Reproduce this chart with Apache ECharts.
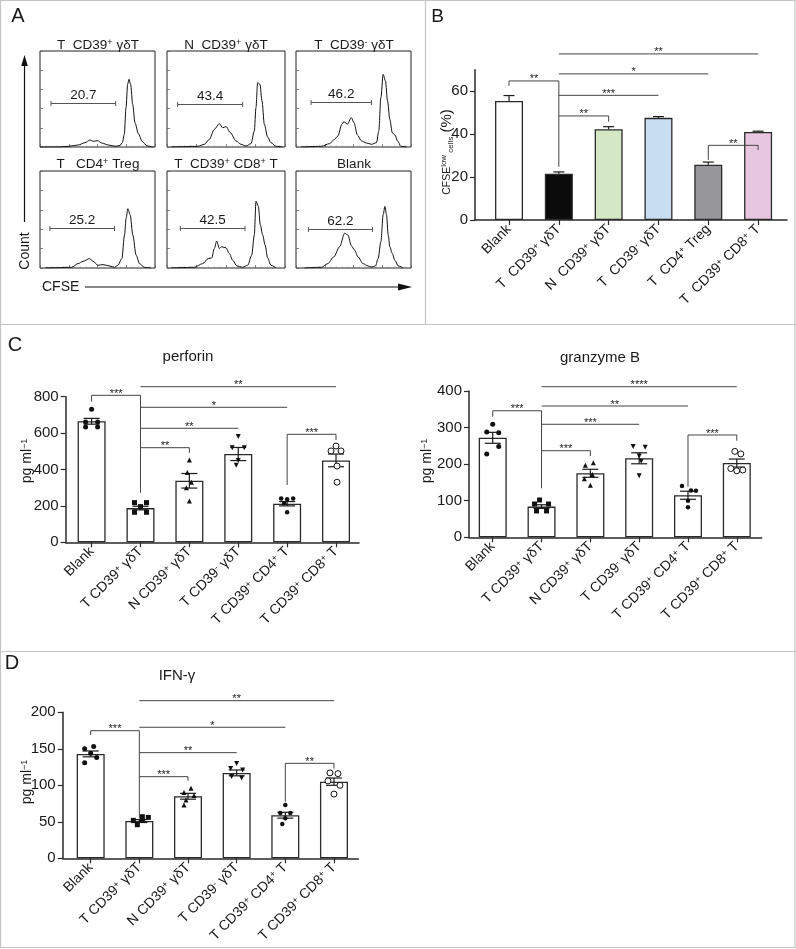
<!DOCTYPE html>
<html>
<head>
<meta charset="utf-8">
<script src="https://cdn.jsdelivr.net/npm/echarts@6.0.0/dist/echarts.min.js"></script>
<style>
html,body{margin:0;padding:0;background:#fff;}
#chart{width:796px;height:949px;}
</style>
</head>
<body>
<div id="chart"></div>
<script>
// ================= DATA =================
// ---- Panel A: CFSE histograms (x: CFSE position 0-100, y: relative count 0-100)
const histTitles = ['T  CD39⁺ γδT', 'N  CD39⁺ γδT', 'T  CD39⁻ γδT', 'T   CD4⁺ Treg', 'T  CD39⁺ CD8⁺ T', 'Blank'];
const histGateLabels = ['20.7', '43.4', '46.2', '25.2', '42.5', '62.2'];
const histGates = [[9.6, 65.8, 46.2], [9.0, 64.1, 44.4], [13.1, 65.6, 47.2], [8.6, 64.8, 41.0], [11.3, 66.1, 41.0], [10.8, 66.5, 40.3]];
const histTumorCD39pos = [[0,0],[16,0],[24.6,0.7],[33.3,2.1],[39.1,4.5],[43.5,7.3],[46.4,5.9],[50.1,6.6],[53.6,4.2],[59.4,2.1],[65.8,0.7],[69.6,1.7],[71.6,4.5],[73.3,13.2],[74.8,41],[76.2,65.3],[77.4,70.5],[78.8,65.3],[80.6,44.4],[82.6,25.3],[85.5,13.9],[89,5.6],[92.8,1.4],[97.1,0],[99,0]];
const histNormalCD39pos = [[3.4,0],[26,0.7],[31.6,2.8],[35.9,8],[40.1,18.4],[44.4,24.3],[47.2,20.1],[50,21.2],[53.7,14.9],[58.5,6.3],[62.7,2.8],[66.9,1],[71.2,3.5],[74,16.7],[75.4,41],[76.8,67],[78.8,65.3],[80.5,47.9],[82.5,23.6],[85.3,10.4],[88.1,4.5],[92.4,0.7],[98,0]];
const histTumorCD39neg = [[4.4,0],[21.9,0.7],[29.2,3.5],[33.5,8],[36.4,11.5],[39.9,23.6],[41.7,26.4],[44.6,23.6],[48.1,30.6],[50.4,25.3],[53.4,12.5],[56.9,6.3],[61.2,4.2],[65.6,2.8],[70,4.5],[72,16.7],[73.8,51.4],[75.8,75.7],[77.8,68.8],[79.6,47.9],[81.6,28.8],[83.7,14.9],[86,12.5],[88.3,6.3],[91.3,0.7],[96.2,0]];
const histTreg = [[4.3,0],[27.4,0.7],[33.1,4.5],[37.5,6.9],[43.2,9.7],[46.1,6.9],[50.4,2.8],[54.8,3.5],[60.5,2.1],[64.8,0.7],[67.7,2.8],[71.2,9.7],[73.5,34],[74.9,51.4],[76.4,61.1],[78.4,54.9],[80.7,34],[83.6,13.2],[86.5,4.5],[90.8,0.7],[96.5,0]];
const histCD8 = [[3.4,0],[23.2,0.7],[30.2,4.5],[35,9.7],[37.9,10.4],[40.1,20.1],[42.1,27.8],[44.4,20.1],[46.3,21.9],[50,20.8],[52.8,14.9],[55.6,8],[59.3,2.1],[64.1,0.7],[68.4,2.8],[71.8,13.2],[74,34],[75.4,68.8],[77.4,63.5],[79.1,44.4],[81.1,34],[83.1,23.6],[85.3,10.4],[88.1,2.8],[92.4,0]];
const histBlank = [[7.3,0],[21.9,0.7],[27.7,4.5],[32.9,11.5],[37.9,21.9],[42.3,35.8],[45.2,34],[48.1,22.9],[51,18.4],[53.9,11.5],[58.3,4.5],[62.7,2.1],[65.6,1],[69.1,2.1],[71.4,9.7],[73.8,27.1],[75.8,54.9],[77.3,63.5],[78.7,54.9],[80.2,34],[81.6,21.9],[83.7,14.9],[86,8],[88.9,2.1],[93.3,0]];
const histData = [histTumorCD39pos, histNormalCD39pos, histTumorCD39neg, histTreg, histCD8, histBlank];

// ---- Panel B: CFSE-low cells (%)
const bCategories = ['Blank', 'T  CD39⁺ γδT', 'N  CD39⁺ γδT', 'T  CD39⁻ γδT', 'T  CD4⁺ Treg', 'T  CD39⁺ CD8⁺ T'];
const bMeans = [55.5, 21.6, 42.3, 47.6, 25.8, 41.0];
const bSems = [2.5, 0.8, 1.2, 0.6, 1.2, 0.4];
const bTicks = [0, 20, 40, 60];
// [fromIndex, toIndex, lineValue, leftDropValue, rightDropValue]
const bBrackets = [[0,1,64.8,62.5,24.8],[1,5,77.4,null,null],[1,4,68.1,null,null],[1,3,58.1,null,null],[1,2,48.5,null,45.8],[4,5,34.8,28,32.6]];
const bStars = ['**','**','*','***','**','**'];

// ---- Panels C / D: cytokines
const cytoCategories = ['Blank', 'T CD39⁺ γδT', 'N CD39⁺ γδT', 'T CD39⁻ γδT', 'T CD39⁺ CD4⁺ T', 'T CD39⁺ CD8⁺ T'];

const perfMeans = [665, 188, 338, 485, 212, 450];
const perfSems = [16, 10, 40, 36, 12, 35];
const perfPoints = [[731,661,661,634,634],[218,218,196,165,165],[452,383,330,300,227],[581,520,520,449,423],[240,236,240,215,165],[529,502,502,419,330]];
const perfTicks = [0, 200, 400, 600, 800];
const perfBrackets = [[0,1,807.7,772.5,272.5],[1,5,855,null,null],[1,4,741.8,null,null],[1,3,626.4,null,null],[1,2,519.8,null,492.3],[4,5,593.4,314.8,562]];
const perfStars = ['***','**','*','**','**','***'];

const granMeans = [272, 84, 175, 216, 115, 203];
const granSems = [15, 5, 11, 15, 11, 11];
const granPoints = [[309,288,286,248,228],[102,91,91,72,72],[204,197,172,160,142],[248,246,222,208,168],[140,128,127,100,82],[235,228,188,182,184]];
const granTicks = [0, 100, 200, 300, 400];
const granBrackets = [[0,1,346,329.7,134],[1,5,411.7,null,null],[1,4,359,null,null],[1,3,309,null,null],[1,2,236.7,null,222.3],[4,5,279.7,138.3,264]];
const granStars = ['***','****','**','***','***','***'];

const ifnMeans = [143, 51, 85, 117, 59, 105];
const ifnSems = [4, 2, 4, 4, 4, 5];
const ifnPoints = [[153,150,144,138,131],[57,56,52,52,46],[96,90,86,80,73],[130,123,121,112,110],[73,62,62,55,47],[117,116,106,100,88]];
const ifnTicks = [0, 50, 100, 150, 200];
const ifnBrackets = [[0,1,174.8,168.9,54.8],[1,5,215.9,null,null],[1,4,179.5,null,null],[1,3,144.7,null,null],[1,2,111.8,null,106.3],[4,5,130.1,77.5,122.7]];
const ifnStars = ['***','**','*','**','***','**'];

// ================= STYLE / LAYOUT =================
const FF = '"Liberation Sans", Arial, Helvetica, sans-serif';
const TXT = '#1a1a1a';
const AX = '#2a2a2a';
const supRich = { sup: { fontSize: 9, fontFamily: FF, color: TXT, verticalAlign: 'top', padding: [0, 0, 3, 0] } };
function supFmt(s) { return s.replace(/⁺/g, '{sup|+}').replace(/⁻/g, '{sup|-}'); }

const histLayout = [[40,51,115,96],[167,51,118,96],[296,51,115,96],[40,171,115,97],[167,171,118,97],[296,171,115,97]];
const bBarColors = ['#ffffff', '#0b0b0b', '#d4e8c6', '#c8dcf2', '#97979b', '#e7c7df'];
const jitterPerf = [[0,-6,6,-6,6],[-6,6,0,-6,6],[0,-2,2,-3,0],[0,-6,6,0,-2],[-6,0,6,-3,0],[0,-5,5,1,1]];
const jitterGran = [[0,-6,6,6,-6],[-2,-7,7,-5,5],[3,-5,2,-6,0],[-6,6,0,2,0],[-6,3,8,0,0],[-2,4,-6,0,6]];
const jitterIfn = [[3,-6,0,6,-6],[3,9,-6,3,-2],[3,-4,6,-2,-4],[0,-6,6,-5,5],[0,-5,5,0,-3],[-4,4,-6,6,0]];
const groupSymbols = [
  { symbol: 'circle', size: 5, rotate: 0, fill: '#111' },
  { symbol: 'rect', size: 5, rotate: 0, fill: '#111' },
  { symbol: 'triangle', size: 5, rotate: 0, fill: '#111' },
  { symbol: 'triangle', size: 5, rotate: 180, fill: '#111' },
  { symbol: 'circle', size: 4.5, rotate: 0, fill: '#111' },
  { symbol: 'circle', size: 6, rotate: 0, fill: '#fff' }
];

const grids = [], xAxes = [], yAxes = [], series = [];

// ---------- Panel A ----------
histData.forEach((pts, k) => {
  const L = histLayout[k];
  grids.push({ left: L[0], top: L[1], width: L[2], height: L[3], show: true, borderColor: '#222', borderWidth: 1,
    backgroundColor: 'transparent', containLabel: false, outerBoundsMode: 'none' });
  const gi = grids.length - 1;
  const tickCommon = { axisLine: { show: false, onZero: false }, axisLabel: { show: false }, splitLine: { show: false },
    axisTick: { show: true, inside: true, length: 3, lineStyle: { color: '#666', width: 0.8 } },
    minorTick: { show: true, splitNumber: 5, length: 1.5, lineStyle: { color: '#888', width: 0.6 } } };
  xAxes.push(Object.assign({ gridIndex: gi, type: 'value', min: 0, max: 100, interval: 25 }, tickCommon));
  yAxes.push(Object.assign({ gridIndex: gi, type: 'value', min: 0, max: 100, interval: 20 }, tickCommon,
    { minorTick: { show: false } }));
  const xi = xAxes.length - 1, yi = yAxes.length - 1;
  series.push({ type: 'line', xAxisIndex: xi, yAxisIndex: yi, data: pts, showSymbol: false, smooth: 0.3,
    smoothMonotone: 'x', lineStyle: { color: '#111', width: 1 }, silent: true, z: 3 });
  series.push({ type: 'custom', xAxisIndex: xi, yAxisIndex: yi, silent: true, z: 4, clip: false,
    data: [histGates[k]], encode: { x: [0, 1], y: 2 },
    renderItem(params, api) {
      const p1 = api.coord([api.value(0), api.value(2)]), p2 = api.coord([api.value(1), api.value(2)]);
      const st = { stroke: '#555', lineWidth: 1 };
      const y = Math.round(p1[1]) + 0.5;
      return { type: 'group', children: [
        { type: 'line', shape: { x1: p1[0], y1: y, x2: p2[0], y2: y }, style: st },
        { type: 'line', shape: { x1: p1[0], y1: y - 2.5, x2: p1[0], y2: y + 2.5 }, style: st },
        { type: 'line', shape: { x1: p2[0], y1: y - 2.5, x2: p2[0], y2: y + 2.5 }, style: st },
        { type: 'text', x: (p1[0] + p2[0]) / 2, y: y - 8.5, style: { text: histGateLabels[k], fill: TXT,
          font: '13.5px ' + FF, textAlign: 'center', textVerticalAlign: 'middle', align: 'center', verticalAlign: 'middle' } }
      ] };
    } });
});

// ---------- bar panels ----------
function barPanel(cfg) {
  grids.push({ left: cfg.box[0], top: cfg.box[1], width: cfg.box[2], height: cfg.box[3], containLabel: false, outerBoundsMode: 'none' });
  const gi = grids.length - 1;
  xAxes.push({ gridIndex: gi, type: 'value', min: cfg.xRange[0], max: cfg.xRange[1],
    axisLine: { show: true, onZero: false, lineStyle: { color: AX, width: 1.5 } },
    axisTick: { show: true, length: 5, customValues: [0,1,2,3,4,5], lineStyle: { color: AX, width: 1.2 } },
    axisLabel: { show: true, customValues: [0,1,2,3,4,5], rotate: 45, margin: 7, hideOverlap: false,
      fontSize: 14, fontFamily: FF, color: TXT, rich: supRich,
      formatter: v => supFmt(cfg.cats[Math.round(v)]) },
    splitLine: { show: false } });
  yAxes.push({ gridIndex: gi, type: 'value', min: 0, max: cfg.yMax, interval: cfg.yTicks[1] - cfg.yTicks[0],
    axisLine: { show: true, onZero: false, lineStyle: { color: AX, width: 1.5 } },
    axisTick: { show: true, length: 5, customValues: cfg.yTicks, lineStyle: { color: AX, width: 1.2 } },
    axisLabel: { show: true, customValues: cfg.yTicks, margin: 7, fontSize: 15, fontFamily: FF, color: TXT, hideOverlap: false },
    splitLine: { show: false } });
  const xi = xAxes.length - 1, yi = yAxes.length - 1;
  series.push({ type: 'bar', xAxisIndex: xi, yAxisIndex: yi, barWidth: 28, silent: true, z: 2,
    data: cfg.means.map((m, i) => ({ value: [i, m], itemStyle: { color: cfg.colors ? cfg.colors[i] : '#fff' } })),
    itemStyle: { borderColor: '#2a2a2a', borderWidth: 1.3 } });
  series.push({ type: 'custom', xAxisIndex: xi, yAxisIndex: yi, silent: true, z: 3, clip: false,
    data: cfg.means.map((m, i) => [i, m, cfg.sems[i]]), encode: { x: 0, y: 1 },
    renderItem(params, api) {
      const i = api.value(0), m = api.value(1), s = api.value(2);
      const t = api.coord([i, m + s]), b = api.coord([i, cfg.both ? m - s : m]);
      const x = t[0], w = cfg.capW / 2;
      const st = { stroke: '#1a1a1a', lineWidth: 1.2 };
      const ch = [
        { type: 'line', shape: { x1: x, y1: t[1], x2: x, y2: b[1] }, style: st },
        { type: 'line', shape: { x1: x - w, y1: t[1], x2: x + w, y2: t[1] }, style: st }
      ];
      if (cfg.both) ch.push({ type: 'line', shape: { x1: x - w, y1: b[1], x2: x + w, y2: b[1] }, style: st });
      return { type: 'group', children: ch };
    } });
  if (cfg.points) {
    cfg.points.forEach((grp, i) => {
      const g = groupSymbols[i];
      series.push({ type: 'scatter', xAxisIndex: xi, yAxisIndex: yi, silent: true, z: 5,
        symbol: g.symbol, symbolSize: g.size, symbolRotate: g.rotate,
        itemStyle: { color: g.fill, borderColor: '#111', borderWidth: g.fill === '#fff' ? 1 : 0, opacity: 1 },
        data: grp.map((v, j) => ({ value: [i, v], symbolOffset: [cfg.jitter[i][j], 0] })) });
    });
  }
  series.push({ type: 'custom', xAxisIndex: xi, yAxisIndex: yi, silent: true, z: 6, clip: false,
    data: cfg.brackets, encode: { x: [0, 1], y: 2 },
    renderItem(params, api) {
      const a = api.value(0), b = api.value(1), yv = api.value(2), ld = api.value(3), rd = api.value(4);
      const p1 = api.coord([a, yv]), p2 = api.coord([b, yv]);
      const st = { stroke: '#444', lineWidth: 1 };
      const ch = [{ type: 'line', shape: { x1: p1[0], y1: p1[1], x2: p2[0], y2: p2[1] }, style: st }];
      if (isFinite(ld)) { const q = api.coord([a, ld]); ch.push({ type: 'line', shape: { x1: p1[0], y1: p1[1], x2: p1[0], y2: q[1] }, style: st }); }
      if (isFinite(rd)) { const q = api.coord([b, rd]); ch.push({ type: 'line', shape: { x1: p2[0], y1: p2[1], x2: p2[0], y2: q[1] }, style: st }); }
      ch.push({ type: 'text', x: (p1[0] + p2[0]) / 2, y: p1[1] - 1.5, style: { text: cfg.stars[params.dataIndex], fill: '#222',
        font: '11px ' + FF, textAlign: 'center', textVerticalAlign: 'middle', align: 'center', verticalAlign: 'middle' } });
      return { type: 'group', children: ch };
    } });
}

barPanel({ box: [475, 69.8, 312, 150.2], xRange: [-0.683, 5.58], yMax: 70, yTicks: bTicks, cats: bCategories,
  means: bMeans, sems: bSems, colors: bBarColors, both: false, capW: 11, brackets: bBrackets, stars: bStars });
barPanel({ box: [65.7, 396.7, 293.3, 145.6], xRange: [-0.53, 5.47], yMax: 800, yTicks: perfTicks, cats: cytoCategories,
  means: perfMeans, sems: perfSems, both: true, capW: 16, points: perfPoints, jitter: jitterPerf, brackets: perfBrackets, stars: perfStars });
barPanel({ box: [469, 391, 292.7, 146.3], xRange: [-0.486, 5.51], yMax: 400, yTicks: granTicks, cats: cytoCategories,
  means: granMeans, sems: granSems, both: true, capW: 16, points: granPoints, jitter: jitterGran, brackets: granBrackets, stars: granStars });
barPanel({ box: [62.7, 712.3, 295.6, 146], xRange: [-0.575, 5.5], yMax: 200, yTicks: ifnTicks, cats: cytoCategories,
  means: ifnMeans, sems: ifnSems, both: true, capW: 16, points: ifnPoints, jitter: jitterIfn, brackets: ifnBrackets, stars: ifnStars });

// ---------- free text & frame ----------
function txt(x, y, text, size, extra) {
  return Object.assign({ type: 'text', x: x, y: y, silent: true, z: 10,
    style: { text: text, fontSize: size, fontFamily: FF, fill: TXT, textAlign: 'center', textVerticalAlign: 'middle',
      align: 'center', verticalAlign: 'middle', rich: supRich } }, extra || {});
}
const BORDER = '#c4c4c4';
const graphics = [
  { type: 'rect', shape: { x: 0.5, y: 0.5, width: 794.5, height: 947 }, style: { fill: null, stroke: BORDER, lineWidth: 1.2 }, silent: true },
  { type: 'line', shape: { x1: 425.5, y1: 0, x2: 425.5, y2: 324 }, style: { stroke: BORDER, lineWidth: 1.2 }, silent: true },
  { type: 'line', shape: { x1: 0, y1: 324.5, x2: 796, y2: 324.5 }, style: { stroke: BORDER, lineWidth: 1.2 }, silent: true },
  { type: 'line', shape: { x1: 0, y1: 651.5, x2: 796, y2: 651.5 }, style: { stroke: BORDER, lineWidth: 1.2 }, silent: true },
  txt(18, 16, 'A', 20), txt(437.5, 17, 'B', 19), txt(15, 345, 'C', 20), txt(12, 663.5, 'D', 20),
  txt(188, 357, 'perforin', 15), txt(600, 358, 'granzyme B', 15), txt(177, 676, 'IFN-γ', 15),
  // Count / CFSE axes of panel A
  txt(25, 251, 'Count', 14, { rotation: Math.PI / 2 }),
  { type: 'text', x: 42, y: 287.5, silent: true, style: { text: 'CFSE', fontSize: 14, fontFamily: FF, fill: TXT,
    textAlign: 'left', textVerticalAlign: 'middle', align: 'left', verticalAlign: 'middle' } },
  { type: 'line', shape: { x1: 24.5, y1: 222, x2: 24.5, y2: 62 }, style: { stroke: '#111', lineWidth: 1.2 }, silent: true },
  { type: 'polygon', shape: { points: [[24.5, 55], [21.2, 66], [27.8, 66]] }, style: { fill: '#111' }, silent: true },
  { type: 'line', shape: { x1: 85, y1: 287, x2: 402, y2: 287 }, style: { stroke: '#111', lineWidth: 1.2 }, silent: true },
  { type: 'polygon', shape: { points: [[412, 287], [398, 283.5], [398, 290.5]] }, style: { fill: '#111' }, silent: true },
  // y-axis names
  txt(27, 461, 'pg ml{sup|−1}', 14, { rotation: Math.PI / 2 }),
  txt(427, 461, 'pg ml{sup|−1}', 14, { rotation: Math.PI / 2 }),
  txt(27.5, 782, 'pg ml{sup|−1}', 14, { rotation: Math.PI / 2 }),
  { type: 'text', x: 447, y: 152, rotation: Math.PI / 2, silent: true, z: 10,
    style: { text: '{a|CFSE}{b|low}{c| cells}{d| (%)}', fontFamily: FF, fill: TXT, textAlign: 'center', textVerticalAlign: 'middle',
      align: 'center', verticalAlign: 'middle',
      rich: { a: { fontSize: 10.5, fontFamily: FF, color: TXT }, b: { fontSize: 8, fontFamily: FF, color: TXT, verticalAlign: 'top' },
        c: { fontSize: 8, fontFamily: FF, color: TXT, verticalAlign: 'bottom' }, d: { fontSize: 15, fontFamily: FF, color: TXT } } } }
];
// histogram titles
const titleCenters = [[98, 45], [226, 45], [354, 45], [98, 164], [226, 164], [354, 164]];
histTitles.forEach((t, k) => graphics.push(txt(titleCenters[k][0], titleCenters[k][1], supFmt(t), 13.5)));

const chart = echarts.init(document.getElementById('chart'), null, { renderer: 'canvas' });
chart.setOption({
  animation: false,
  backgroundColor: '#fff',
  textStyle: { fontFamily: FF },
  grid: grids, xAxis: xAxes, yAxis: yAxes, series: series,
  graphic: { elements: graphics }
});
</script>
</body>
</html>
